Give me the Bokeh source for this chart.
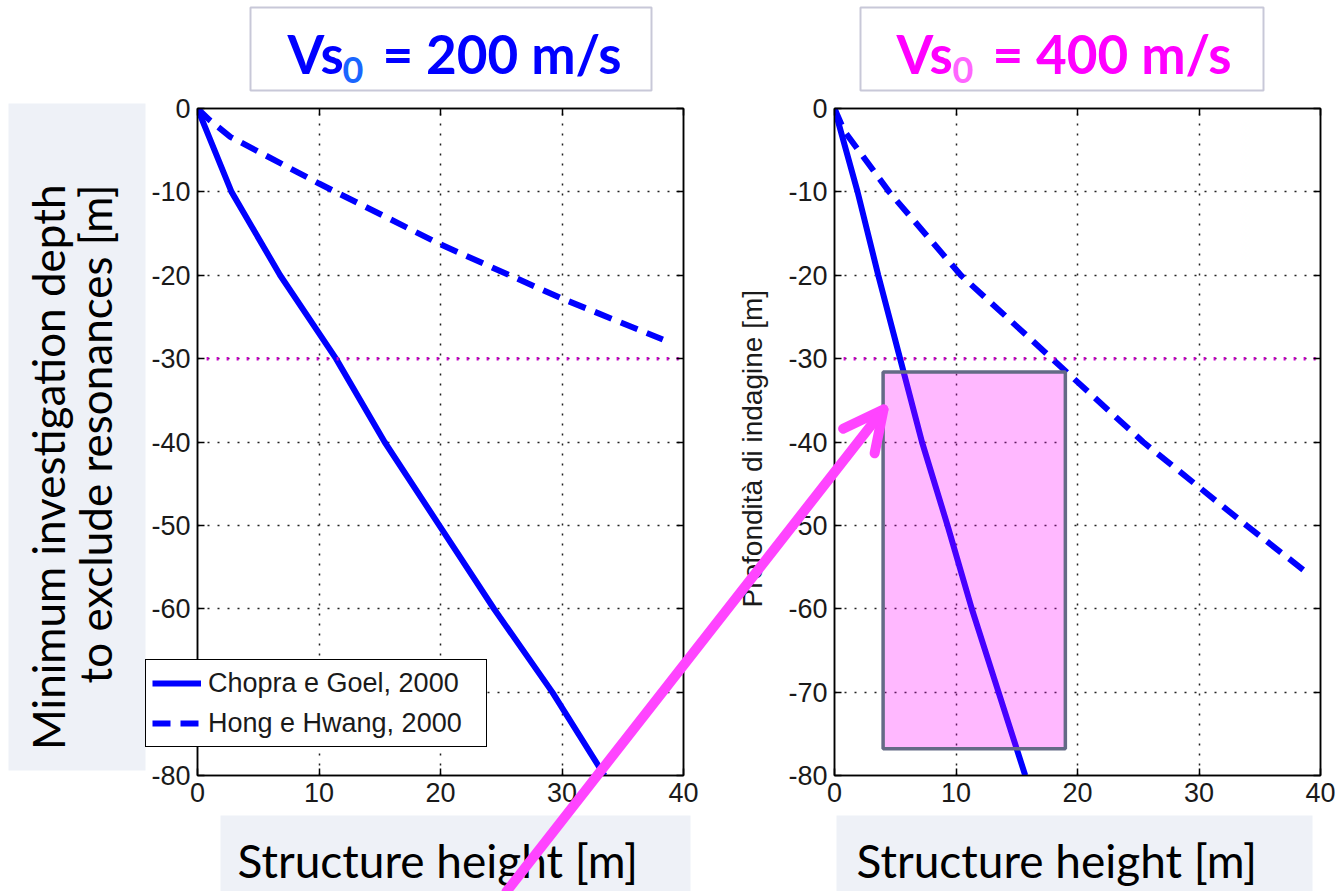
from bokeh.plotting import figure
from bokeh.layouts import column
from bokeh.models import (Range1d, FixedTicker, LinearAxis, Legend, LegendItem,
                          BoxAnnotation, Label, Arrow, OpenHead, GridBox, ColumnDataSource)
from bokeh.embed import file_html
from bokeh.resources import INLINE

# ---------------- data ----------------
h_chopra_200 = [0, 2.8, 6.8, 11.4, 15.4, 19.9, 24.4, 29.2, 33.5]
d_chopra_200 = [0, -10, -20, -30, -40, -50, -60, -70, -80]
h_hong_200 = [0, 1.0, 2.7, 10.0, 20.0, 30.0, 38.3]
d_hong_200 = [0, -1.4, -3.4, -9.0, -16.3, -22.8, -27.7]

h_chopra_400 = [0, 1.9, 3.6, 5.4, 7.2, 9.3, 11.3, 13.5, 15.7]
d_chopra_400 = [0, -10, -20, -30, -40, -50, -60, -70, -80]
h_hong_400 = [0, 0.8, 4.5, 10.4, 17.9, 25.4, 33.9, 38.9]
d_hong_400 = [0, -2.7, -10, -20, -30, -40, -50, -55.7]

ref_h = [0.75, 40.0]
ref_d = [-30, -30]

highlight_h = [4.0, 19.0]
highlight_d = [-31.6, -76.8]

x_ticks = [0, 10, 20, 30, 40]
y_ticks = [0, -10, -20, -30, -40, -50, -60, -70, -80]

legend_labels = ["Chopra e Goel, 2000", "Hong e Hwang, 2000"]
title_left = ["Vs", "0", "= 200 m/s"]
title_right = ["Vs", "0", "= 400 m/s"]
ylabel_left = ["Minimum investigation depth", "to exclude resonances [m]"]
ylabel_right = "Profondità di indagine [m]"
xlabel = "Structure height [m]"

# ---------------- layout constants (pixels) ----------------
W, H = 1335, 891
FRAME_TOP, FRAME_BOTTOM = 108, 775
L_W, L_FRAME_L, L_FRAME_R = 700, 197, 683
R_W, R_OFF, R_FRAME_L, R_FRAME_R = 635, 700, 834, 1320

MATLAB_FONT = "Liberation Sans"
SLIDE_FONT = "Lato"
BLUE = "#0000ff"
MAG = "#ff44ff"
BOXBG = "#eef1f7"
REFC = "#cc00cc"


def oy(py):
    """page pixel row -> overlay y coordinate"""
    return H - py


def make_fig(width, frame_l, frame_r, canvas_off):
    p = figure(width=width, height=H, output_backend="svg", toolbar_location=None,
               x_range=Range1d(0, 40), y_range=Range1d(-80, 0),
               min_border_left=frame_l - canvas_off,
               min_border_right=canvas_off + width - frame_r,
               min_border_top=FRAME_TOP, min_border_bottom=H - FRAME_BOTTOM)
    p.background_fill_color = "white"
    p.border_fill_color = "white"
    p.outline_line_color = "black"
    p.outline_line_width = 1.5
    for ax, ticks in ((p.xaxis[0], x_ticks), (p.yaxis[0], y_ticks)):
        ax.ticker = FixedTicker(ticks=ticks)
        ax.major_tick_in = 7
        ax.major_tick_out = 0
        ax.minor_tick_line_color = None
        ax.axis_line_color = "black"
        ax.axis_line_width = 1.5
        ax.major_tick_line_width = 1.5
        ax.major_label_text_font = MATLAB_FONT
        ax.major_label_text_font_size = "27px"
        ax.major_label_text_color = "#1a1a1a"
    p.yaxis[0].major_label_overrides = {v: str(v) for v in y_ticks}
    p.xaxis[0].major_label_standoff = 7
    p.yaxis[0].major_label_standoff = 7
    for loc, ticks in (("above", x_ticks), ("right", y_ticks)):
        ax = LinearAxis(ticker=FixedTicker(ticks=ticks), major_tick_in=7, major_tick_out=0,
                        minor_tick_line_color=None, major_label_text_font_size="0px",
                        axis_line_color="black", axis_line_width=1.5,
                        major_tick_line_width=1.5, major_label_standoff=0)
        p.add_layout(ax, loc)
    p.xgrid.ticker = FixedTicker(ticks=[10, 20, 30])
    p.ygrid.ticker = FixedTicker(ticks=[-10, -20, -30, -40, -50, -60, -70])
    for g in (p.xgrid[0], p.ygrid[0]):
        g.grid_line_color = "#222222"
        g.grid_line_width = 1.5
        g.grid_line_dash = "2 8"
    return p


# ---------------- left panel ----------------
p1 = make_fig(L_W, L_FRAME_L, L_FRAME_R, 0)
p1.line(h_chopra_200, d_chopra_200, line_color=BLUE, line_width=6)
p1.line(h_hong_200, d_hong_200, line_color=BLUE, line_width=6, line_dash="18 10")
p1.line(ref_h, ref_d, line_color=REFC, line_width=3.5, line_dash="2 8")

# ---------------- right panel ----------------
p2 = make_fig(R_W, R_FRAME_L, R_FRAME_R, R_OFF)
p2.line(h_chopra_400, d_chopra_400, line_color=BLUE, line_width=6)
p2.line(h_hong_400, d_hong_400, line_color=BLUE, line_width=6, line_dash="18 10")
p2.line(ref_h, ref_d, line_color=REFC, line_width=3.5, line_dash="2 8")
p2.add_layout(BoxAnnotation(left=highlight_h[0], right=highlight_h[1],
                            top=highlight_d[0], bottom=highlight_d[1],
                            fill_color="#ff00ff", fill_alpha=0.28,
                            line_color="#646a86", line_alpha=1.0, line_width=3.5))

# ---------------- overlay (slide annotations in page pixels) ----------------
ov = figure(width=W, height=H, output_backend="svg", toolbar_location=None,
            x_range=Range1d(0, W), y_range=Range1d(0, H),
            x_axis_type=None, y_axis_type=None,
            min_border_left=0, min_border_right=0, min_border_top=0, min_border_bottom=0)
ov.background_fill_alpha = 0
ov.border_fill_alpha = 0
ov.outline_line_color = None
ov.grid.visible = False

nan = float("nan")
lr1 = ov.line("x", "y", source=ColumnDataSource(dict(x=[nan], y=[nan])),
              line_color=BLUE, line_width=6)
lr2 = ov.line("x", "y", source=ColumnDataSource(dict(x=[nan], y=[nan])),
              line_color=BLUE, line_width=6, line_dash="18 10")
legend = Legend(items=[LegendItem(label=legend_labels[0], renderers=[lr1]),
                       LegendItem(label=legend_labels[1], renderers=[lr2])],
                location=(145, H - 747),
                label_text_font=MATLAB_FONT, label_text_font_size="27px",
                label_text_color="#1a1a1a",
                glyph_width=49, glyph_height=34, label_height=34, label_width=272,
                label_standoff=7, spacing=6, padding=6, margin=0,
                border_line_color="black", border_line_width=1.2, border_line_alpha=1.0,
                background_fill_color="white", background_fill_alpha=1.0)
ov.add_layout(legend)

K_H = 0.34   # baseline correction for horizontal labels (fraction of font size)
K_V = 0.55   # baseline correction for rotated labels


def box(l, r, t, b, fill, line=None, lw=0, level="annotation"):
    ov.add_layout(BoxAnnotation(left=l, right=r, top=oy(t), bottom=oy(b),
                                fill_color=fill, fill_alpha=1.0, level=level,
                                line_color=line, line_alpha=1.0, line_width=lw))


def label(x, y, text, size, color="black", bold=False, angle=0, align="left",
          font=SLIDE_FONT, level="annotation"):
    if angle == 0:
        y = y - K_H * size
    else:
        x = x - K_V * size
    ov.add_layout(Label(x=x, y=oy(y), text=text, angle=angle, angle_units="deg",
                        text_font=font, text_font_size=f"{size}px", level=level,
                        text_font_style="bold" if bold else "normal",
                        text_color=color, text_align=align, text_baseline="alphabetic"))


# titles
for (bl, br), texts, color, sub, xs in (((250, 651), title_left, "#0000ff", "#1a66ff", (287, 342, 382)),
                                        ((860, 1263), title_right, "#ff00ff", "#ff66ff", (896, 952, 992))):
    box(bl, br, 7, 90, "white", "#c8c8d8", 2)
    label(xs[0], 71, texts[0], 53, color, bold=True)
    label(xs[1], 82, texts[1], 36, sub, bold=True)
    label(xs[2], 71, texts[2], 53, color, bold=True)

# x-label boxes
for bl, br, tx in ((220, 690, 237), (836, 1312, 856)):
    box(bl, br, 815, 891, BOXBG)
    label(tx, 876, xlabel, 46)

# right small y label
label(767, 607, ylabel_right, 28, color="#1a1a1a", angle=90, align="left",
      font=MATLAB_FONT, level="overlay")

# left y-label box
box(8, 145, 103, 770, BOXBG, level="overlay")
label(72, 184, ylabel_left[0], 44, angle=90, align="right", level="overlay")
label(119, 184, ylabel_left[1], 44, angle=90, align="right", level="overlay")

# magenta arrow
ov.add_layout(Arrow(x_start=506, y_start=oy(891), x_end=883, y_end=oy(409),
                    end=OpenHead(size=40, line_color=MAG, line_width=10,
                                 line_cap="round", line_join="round"),
                    line_color=MAG, line_width=10, line_cap="round", level="overlay"))

layout = GridBox(children=[(p1, 0, 0), (p2, 0, 1), (column(ov), 0, 0, 1, 2)], spacing=0)
open("out.html", "w").write(file_html(layout, INLINE))
